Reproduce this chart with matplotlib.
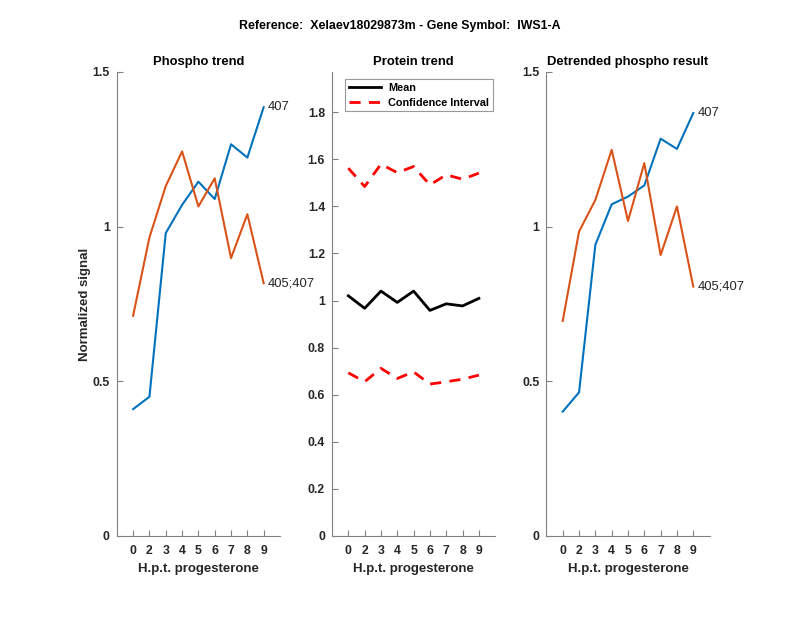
import matplotlib
matplotlib.use("Agg")
import matplotlib.pyplot as plt

plt.rcParams['font.family'] = ['Liberation Sans', 'DejaVu Sans']

categories = ['0', '2', '3', '4', '5', '6', '7', '8', '9']

phospho_407 = [0.41, 0.45, 0.979, 1.07, 1.145, 1.089, 1.266, 1.223, 1.386]
phospho_405_407 = [0.712, 0.965, 1.131, 1.243, 1.065, 1.156, 0.898, 1.04, 0.817]

protein_mean = [1.020, 0.967, 1.040, 0.992, 1.040, 0.958, 0.986, 0.977, 1.009]
protein_ci_upper = [1.562, 1.484, 1.579, 1.543, 1.569, 1.491, 1.534, 1.515, 1.541]
protein_ci_lower = [0.693, 0.655, 0.712, 0.669, 0.697, 0.645, 0.655, 0.666, 0.683]

detrended_407 = [0.402, 0.464, 0.941, 1.072, 1.097, 1.133, 1.284, 1.251, 1.367]
detrended_405_407 = [0.695, 0.984, 1.086, 1.248, 1.018, 1.205, 0.908, 1.065, 0.806]

label_407 = '407'
label_405_407 = '405;407'

BLUE = '#0072BD'
ORANGE = '#D95319'
TXT = '#262626'
AXC = '#808080'

fig = plt.figure(figsize=(8, 6.18), dpi=100)
fig.suptitle('Reference:  Xelaev18029873m - Gene Symbol:  IWS1-A',
             fontsize=8.9, fontweight='bold', y=1 - 26 / 618, va='center',
             color='black')

x = list(range(1, len(categories) + 1))

def style(ax, title, yticks, yticklabels, ylim):
    ax.set_xlim(0, 10)
    ax.set_ylim(*ylim)
    ax.set_xticks(x)
    ax.set_xticklabels(categories)
    ax.set_yticks(yticks)
    ax.set_yticklabels(yticklabels)
    for s in ['top', 'right']:
        ax.spines[s].set_visible(False)
    for s in ['left', 'bottom']:
        ax.spines[s].set_color(AXC)
        ax.spines[s].set_linewidth(0.8)
    ax.tick_params(direction='in', length=4, width=0.8, color=AXC,
                   labelcolor=TXT, labelsize=8.8, pad=5)
    ax.tick_params(axis='x', pad=6.5)
    for lab in ax.get_xticklabels() + ax.get_yticklabels():
        lab.set_fontweight('bold')
    ax.set_title(title, fontsize=9.4, fontweight='bold', pad=5)
    ax.set_xlabel('H.p.t. progesterone', fontsize=9.5, fontweight='bold',
                  color=TXT, labelpad=4)

W, H, B = 0.204, 0.751, 0.1327

ax1 = fig.add_axes([0.146, B, W, H])
ax1.plot(x, phospho_407, color=BLUE, lw=1.5)
ax1.plot(x, phospho_405_407, color=ORANGE, lw=1.5)
ax1.text(x[-1] + 0.25, phospho_407[-1], label_407, fontsize=9.4, color=TXT,
         va='center', ha='left')
ax1.text(x[-1] + 0.25, phospho_405_407[-1], label_405_407, fontsize=9.4,
         color=TXT, va='center', ha='left')
style(ax1, 'Phospho trend', [0, 0.5, 1, 1.5], ['0', '0.5', '1', '1.5'], (0, 1.5))
ax1.set_ylabel('Normalized signal', fontsize=9.5, fontweight='bold',
               color=TXT, labelpad=1)

ax2 = fig.add_axes([0.415, B, W, H])
ax2.plot(x, protein_mean, color='black', lw=2, label='Mean')
ax2.plot(x, protein_ci_upper, color='red', lw=2, ls=(0, (4, 3)),
         label='Confidence Interval')
ax2.plot(x, protein_ci_lower, color='red', lw=2, ls=(0, (4, 3)))
yt = [0, 0.2, 0.4, 0.6, 0.8, 1, 1.2, 1.4, 1.6, 1.8]
style(ax2, 'Protein trend', yt, ['0', '0.2', '0.4', '0.6', '0.8', '1', '1.2',
                                 '1.4', '1.6', '1.8'], (0, 1.971))
leg = ax2.legend(loc='upper left', bbox_to_anchor=(0.08, 0.985),
                 fontsize=7.8, frameon=True, fancybox=False,
                 handlelength=3.0, borderpad=0.35, labelspacing=0.45,
                 handletextpad=0.6, borderaxespad=0)
leg.get_frame().set_edgecolor(AXC)
leg.get_frame().set_linewidth(0.8)
for t in leg.get_texts():
    t.set_fontweight('bold')

ax3 = fig.add_axes([0.683, B, W, H])
ax3.plot(x, detrended_407, color=BLUE, lw=1.5)
ax3.plot(x, detrended_405_407, color=ORANGE, lw=1.5)
ax3.text(x[-1] + 0.25, detrended_407[-1], label_407, fontsize=9.4, color=TXT,
         va='center', ha='left')
ax3.text(x[-1] + 0.25, detrended_405_407[-1], label_405_407, fontsize=9.4,
         color=TXT, va='center', ha='left')
style(ax3, 'Detrended phospho result', [0, 0.5, 1, 1.5],
      ['0', '0.5', '1', '1.5'], (0, 1.5))

fig.savefig('out.png', dpi=100)
